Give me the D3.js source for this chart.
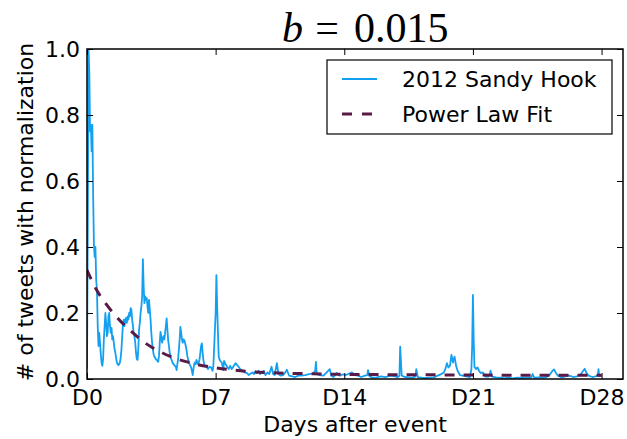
<!DOCTYPE html>
<html>
<head>
<meta charset="utf-8">
<script src="https://cdn.jsdelivr.net/npm/d3@7"></script>
<style>
  html, body { margin: 0; padding: 0; background: #fff; }
  svg { display: block; }
</style>
</head>
<body>
<svg id="chart" width="627" height="439"></svg>
<script>
// ---------------- data ----------------
const sandyHours = [0,1,2,3,4,5,6,7,8,9,10,11,12,13,14,15,16,17,18,19,20,21,22,23,24,25,26,27,28,29,30,31,32,33,34,35,36,37,38,39,40,41,42,43,44,45,46,47,48,49,50,51,52,53,54,55,56,57,58,59,60,61,62,63,64,65,66,67,68,69,70,71,72,73,74,75,76,77,78,79,80,81,82,83,84,85,86,87,88,90,92,93,94,95,96,97,98,99,100,101,102,103,104,105,106,107,108,109,110,111,112,114,116,117,118,119,120,121,122,123,124,125,126,127,128,129,130,131,132,133,134,135,136,137,138,139,140,141,142,143,144,145,146,147,148,149,150,151,152,153,154,156,158,160,162,164,165,166,167,168,169,170,171,172,173,174,176,178,179,181,183,185,187,189,191,194,197,200,203,206,209,211,213,216,218,220,222,224,226,228,231,233,236,238,241,243,245,248,250,253,256,259,261,264,268,272,276,280,285,290,295,298,299,300,304,309,313,317,319,322,326,330,334,338,342,346,350,354,358,363,366,367,369,373,378,384,390,396,402,406,408,409,411,415,420,425,429,430,432,437,443,448,453,458,462,466,468,470,472,474,476,478,480,482,484,487,491,495,500,502,503,504,505,506,508,510,512,514,517,520,524,526,527,529,534,540,545,550,556,562,568,575,580,582,584,590,596,600,604,608,610,612,615,620,625,630,635,640,645,650,652,655,660,664,667,668,669,672];
const sandyValues = [0.03,0.45,1.0,0.93,0.75,0.77,0.69,0.77,0.56,0.41,0.37,0.40,0.30,0.27,0.16,0.10,0.14,0.11,0.075,0.05,0.04,0.06,0.12,0.16,0.20,0.17,0.13,0.14,0.19,0.20,0.16,0.14,0.155,0.12,0.13,0.11,0.09,0.08,0.065,0.05,0.045,0.042,0.045,0.05,0.065,0.09,0.13,0.17,0.18,0.16,0.18,0.185,0.17,0.19,0.18,0.2,0.19,0.215,0.21,0.18,0.16,0.14,0.128,0.11,0.08,0.06,0.058,0.09,0.15,0.17,0.2,0.22,0.25,0.363,0.28,0.23,0.25,0.24,0.245,0.22,0.2,0.24,0.21,0.18,0.14,0.11,0.09,0.075,0.068,0.06,0.055,0.052,0.07,0.11,0.143,0.13,0.11,0.12,0.13,0.12,0.14,0.16,0.184,0.15,0.118,0.1,0.08,0.068,0.06,0.055,0.048,0.042,0.037,0.027,0.045,0.06,0.09,0.12,0.158,0.14,0.12,0.11,0.12,0.118,0.11,0.1,0.088,0.07,0.06,0.052,0.045,0.04,0.035,0.025,0.012,0.03,0.045,0.05,0.045,0.058,0.05,0.045,0.05,0.06,0.08,0.1,0.108,0.08,0.058,0.045,0.04,0.037,0.03,0.037,0.035,0.025,0.04,0.09,0.148,0.2,0.315,0.22,0.14,0.068,0.06,0.055,0.05,0.027,0.055,0.045,0.037,0.03,0.04,0.03,0.037,0.048,0.04,0.03,0.025,0.02,0.018,0.012,0.015,0.02,0.015,0.023,0.018,0.025,0.015,0.02,0.025,0.012,0.02,0.015,0.037,0.015,0.012,0.048,0.015,0.01,0.012,0.02,0.028,0.01,0.008,0.006,0.01,0.01,0.012,0.015,0.016,0.025,0.052,0.015,0.012,0.01,0.02,0.03,0.01,0.006,0.018,0.01,0.014,0.012,0.016,0.02,0.012,0.01,0.006,0.01,0.012,0.027,0.008,0.004,0.005,0.008,0.006,0.01,0.008,0.006,0.01,0.098,0.01,0.006,0.005,0.004,0.008,0.03,0.006,0.004,0.003,0.004,0.005,0.01,0.014,0.02,0.03,0.048,0.035,0.04,0.073,0.05,0.068,0.04,0.025,0.012,0.01,0.008,0.006,0.03,0.1,0.255,0.12,0.037,0.03,0.035,0.025,0.018,0.02,0.007,0.007,0.015,0.025,0.007,0.005,0.004,0.002,0.004,0.002,0.004,0.003,0.004,0.004,0.015,0.004,0.005,0.004,0.006,0.012,0.025,0.029,0.02,0.01,0.005,0.008,0.01,0.006,0.008,0.015,0.031,0.02,0.01,0.006,0.008,0.01,0.03,0.008,0.01];

const fitHours  = [0,12,24,36,48,60,72,84,96,108,120,132,144,168,192,216,240,288,336,420,504,588,672];
const fitValues = [0.33,0.272,0.23,0.195,0.165,0.14,0.116,0.097,0.082,0.069,0.059,0.051,0.044,0.034,0.027,0.022,0.019,0.016,0.014,0.013,0.012,0.011,0.011];

const xTickValues = [0,168,336,504,672];
const xTickLabels = ["D0","D7","D14","D21","D28"];
const yTickValues = [0,0.2,0.4,0.6,0.8,1.0];
const yTickLabels = ["0.0","0.2","0.4","0.6","0.8","1.0"];
const seriesNames = ["2012 Sandy Hook","Power Law Fit"];

// ---------------- layout ----------------
const L = 87, R = 623, T = 49, B = 379;
const FONT = "DejaVu Sans, sans-serif";
const BLUE = "#14a0f0", PURPLE = "#5a1a48";

const svg = d3.select("#chart");
const x = d3.scaleLinear().domain([0,700]).range([L,R]);
const y = d3.scaleLinear().domain([0,1]).range([B,T]);

svg.append("defs").append("clipPath").attr("id","clip")
  .append("rect").attr("x",L).attr("y",T).attr("width",R-L).attr("height",B-T);

const sandy = sandyHours.map((h,i)=>[h,sandyValues[i]]);
const fit = fitHours.map((h,i)=>[h,fitValues[i]]);

const g = svg.append("g").attr("clip-path","url(#clip)");
g.append("path").datum(sandy)
  .attr("d", d3.line().x(d=>x(d[0])).y(d=>y(d[1])))
  .attr("fill","none").attr("stroke",BLUE).attr("stroke-width",1.8).attr("stroke-linejoin","round");
g.append("path").datum(fit)
  .attr("d", d3.line().curve(d3.curveMonotoneX).x(d=>x(d[0])).y(d=>y(d[1])))
  .attr("fill","none").attr("stroke",PURPLE).attr("stroke-width",3).attr("stroke-dasharray","10,9");

// axes
function style(sel){
  sel.selectAll(".tick line").attr("stroke","#000").attr("stroke-width",1);
  sel.selectAll(".domain").remove();
  sel.selectAll("text").attr("font-family",FONT).attr("font-size",22).attr("fill","#000");
}
const xb = svg.append("g").attr("transform",`translate(0,${B})`)
  .call(d3.axisBottom(x).tickValues(xTickValues).tickFormat((d,i)=>xTickLabels[i]).tickSize(-6).tickPadding(10));
style(xb);
const xt = svg.append("g").attr("transform",`translate(0,${T})`)
  .call(d3.axisTop(x).tickValues(xTickValues).tickFormat("").tickSize(-6));
style(xt);
const yl = svg.append("g").attr("transform",`translate(${L},0)`)
  .call(d3.axisLeft(y).tickValues(yTickValues).tickFormat((d,i)=>yTickLabels[i]).tickSize(-6).tickPadding(7));
style(yl);
const yr = svg.append("g").attr("transform",`translate(${R},0)`)
  .call(d3.axisRight(y).tickValues(yTickValues).tickFormat("").tickSize(-6));
style(yr);

svg.append("rect").attr("x",L).attr("y",T).attr("width",R-L).attr("height",B-T)
  .attr("fill","none").attr("stroke","#000").attr("stroke-width",1.5);

// axis labels
svg.append("text").attr("x",(L+R)/2).attr("y",432).attr("text-anchor","middle")
  .attr("font-family",FONT).attr("font-size",22).text("Days after event");
svg.append("text").attr("transform",`translate(33,${(T+B)/2-2}) rotate(-90)`).attr("text-anchor","middle")
  .attr("font-family",FONT).attr("font-size",22).text("# of tweets with normalization");

// title (math-style: italic b, = , number)
const TF = "Liberation Serif, serif";
svg.append("text").attr("x",282).attr("y",42).attr("font-family",TF).attr("font-size",42)
  .attr("font-style","italic").text("b");
svg.append("text").attr("x",327).attr("y",42).attr("text-anchor","middle").attr("font-family",TF)
  .attr("font-size",42).text("=");
svg.append("text").attr("x",354).attr("y",42).attr("font-family",TF).attr("font-size",42).text("0.015");

// legend
const lg = svg.append("g");
lg.append("rect").attr("x",327).attr("y",60).attr("width",285).attr("height",74)
  .attr("fill","#fff").attr("stroke","#000").attr("stroke-width",1.2);
const rows = [{y:79, color:BLUE, dash:null, w:1.8},{y:114, color:PURPLE, dash:"10,10", w:3}];
rows.forEach((r,i)=>{
  lg.append("line").attr("x1",342).attr("x2",377).attr("y1",r.y).attr("y2",r.y)
    .attr("stroke",r.color).attr("stroke-width",r.w).attr("stroke-dasharray",r.dash);
  lg.append("text").attr("x",402).attr("y",r.y+8).attr("font-family",FONT).attr("font-size",22)
    .text(seriesNames[i]);
});
</script>
</body>
</html>
